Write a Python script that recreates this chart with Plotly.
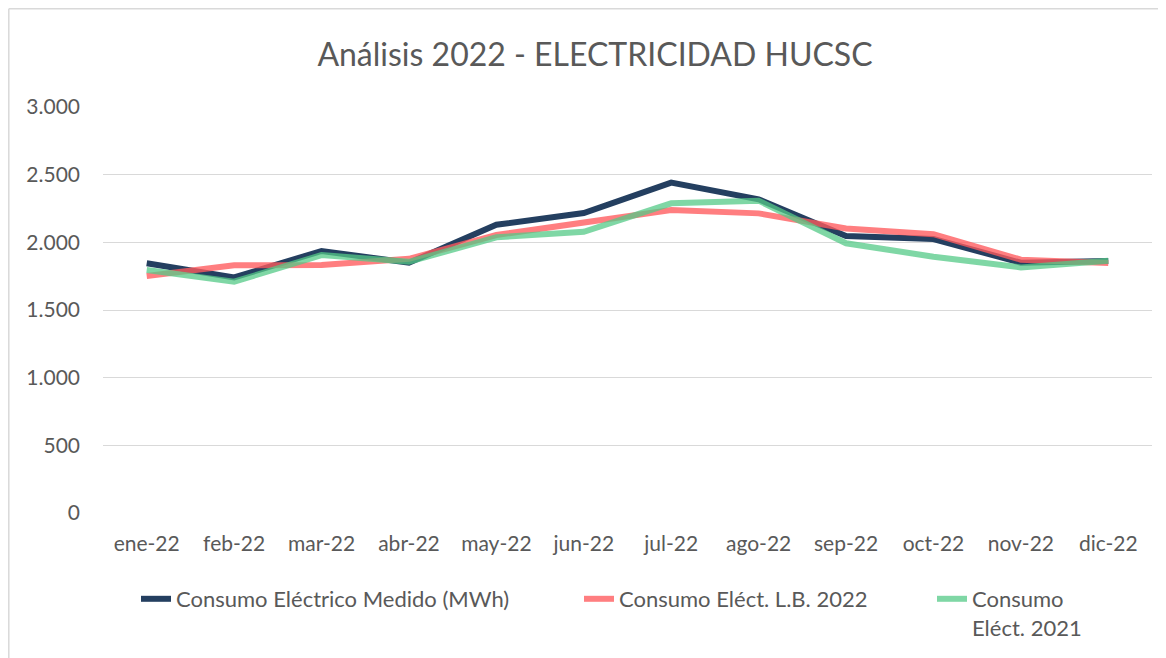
import plotly.graph_objects as go

months = ["ene-22", "feb-22", "mar-22", "abr-22", "may-22", "jun-22",
          "jul-22", "ago-22", "sep-22", "oct-22", "nov-22", "dic-22"]
medido = [1845, 1741, 1936, 1849, 2130, 2217, 2441, 2318, 2047, 2024, 1849, 1862]
lb_2022 = [1751, 1830, 1832, 1878, 2054, 2152, 2239, 2214, 2102, 2060, 1872, 1848]
elect_2021 = [1795, 1709, 1906, 1856, 2037, 2078, 2288, 2308, 1993, 1894, 1815, 1864]

names = ["Consumo Eléctrico Medido (MWh)", "Consumo Eléct. L.B. 2022", "Consumo<br>Eléct. 2021"]
colors = ["#243F60", "rgba(255,90,92,0.78)", "rgba(84,202,135,0.75)"]

FONT = "Lato"
GREY = "#595959"

fig = go.Figure()
for vals, name, col, lg in zip([medido, lb_2022, elect_2021], names, colors, ["legend", "legend2", "legend3"]):
    fig.add_trace(go.Scatter(x=months, y=vals, name=name, mode="lines",
                             line=dict(color=col, width=6), legend=lg, showlegend=True))

# page is offset by the 8px default body margin
OFF = 8
W, H = 1158, 650
L, R, T, B = 95, 14, 99, 145
pw = W - L - R
ph = H - T - B

def px2x(p):
    return (p - OFF - L) / pw

def py2y(p):
    return (H - B - (p - OFF)) / ph

legend_common = dict(orientation="h", yanchor="top", xanchor="left",
                     font=dict(family=FONT, size=22, color=GREY),
                     bgcolor="rgba(0,0,0,0)", itemwidth=30, valign="top")

fig.update_layout(
    width=W, height=H,
    showlegend=True,
    margin=dict(l=L, r=R, t=T, b=B, autoexpand=False),
    paper_bgcolor="white", plot_bgcolor="white",
    separators=",.",
    title=dict(text="Análisis 2022 - ELECTRICIDAD HUCSC", x=(595 - OFF) / W, xref="container", xanchor="center",
               y=1 - (55 - OFF) / H, yref="container", yanchor="middle",
               font=dict(family=FONT, size=32, color=GREY)),
    xaxis=dict(range=[-0.5, 11.5], showgrid=False, showline=False, ticks="", ticklabelstandoff=16,
               automargin=False, tickfont=dict(family=FONT, size=21, color=GREY)),
    yaxis=dict(range=[0, 3000], dtick=500, tickformat=",d", showgrid=True,
               gridcolor="#D9D9D9", gridwidth=1.3, zeroline=False, showline=False,
               ticks="", ticklabelstandoff=22, automargin=False,
               tickfont=dict(family=FONT, size=21, color=GREY)),
    legend=dict(x=px2x(136), y=py2y(578), **legend_common),
    legend2=dict(x=px2x(579), y=py2y(578), **legend_common),
    legend3=dict(x=px2x(932), y=py2y(578), **legend_common),
    shapes=[
        dict(type="line", xref="paper", yref="paper", x0=px2x(8.8), x1=px2x(1200),
             y0=py2y(8.8), y1=py2y(8.8), line=dict(color="#D9D9D9", width=1.5)),
        dict(type="line", xref="paper", yref="paper", x0=px2x(8.8), x1=px2x(8.8),
             y0=py2y(8.8), y1=py2y(700), line=dict(color="#D9D9D9", width=1.5)),
    ],
)

fig.write_html("out.html")
